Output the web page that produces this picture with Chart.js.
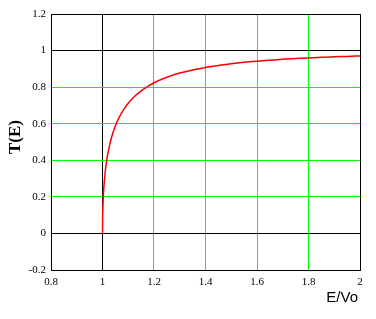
<!DOCTYPE html>
<html lang="en">
<head>
    <meta charset="UTF-8">
    <title>T(E) vs E/Vo</title>
    <script src="https://cdn.jsdelivr.net/npm/chart.js"></script>
    <style>
        body { margin: 0; background: #fff; }
        canvas { display: block; }
    </style>
</head>
<body>
    <canvas id="tChart" width="376" height="319"></canvas>
    <script>
        // values
        const energyRatio = [1.0, 1.0005, 1.001, 1.002, 1.003, 1.005, 1.007, 1.01, 1.015, 1.02, 1.03, 1.04, 1.05,
            1.06, 1.075, 1.08, 1.1, 1.125, 1.15, 1.175, 1.2, 1.25, 1.3, 1.35, 1.4, 1.45, 1.5, 1.55, 1.6,
            1.65, 1.7, 1.75, 1.8, 1.85, 1.9, 1.95, 2.0];
        const transmission = [0, 0.086, 0.119, 0.164, 0.197, 0.246, 0.284, 0.329, 0.387, 0.431, 0.498, 0.548, 0.588,
            0.621, 0.661, 0.673, 0.712, 0.75, 0.78, 0.803, 0.824, 0.854, 0.877, 0.894, 0.908, 0.919, 0.928, 0.936, 0.942,
            0.947, 0.952, 0.956, 0.96, 0.963, 0.966, 0.968, 0.971];

        const xTicks = [0.8, 1, 1.2, 1.4, 1.6, 1.8, 2];
        const yTicks = [-0.2, 0, 0.2, 0.4, 0.6, 0.8, 1, 1.2];
        const xBlack = [0.8, 1, 2];
        const yBlack = [-0.2, 0, 1, 1.2];

        const green = '#00ff00';
        const isIn = (list, v) => list.some(t => Math.abs(t - v) < 1e-6);
        const fmt = v => String(Math.round(v * 10) / 10);

        const tickFont = { family: '"Liberation Serif", "Times New Roman", serif', size: 11 };

        // axis titles
        const titles = {
            id: 'titles',
            afterDraw(chart) {
                const c = chart.ctx;
                c.save();
                c.fillStyle = '#000';
                c.font = '15px "Liberation Sans", Arial, sans-serif';
                c.textAlign = 'right';
                c.textBaseline = 'alphabetic';
                c.fillText('E/Vo', 358, 302);
                c.translate(16, 137);
                c.rotate(-Math.PI / 2);
                c.font = 'bold 17px "Liberation Serif", "Times New Roman", serif';
                c.textAlign = 'center';
                c.textBaseline = 'middle';
                c.fillText('T(E)', 0, 0);
                c.restore();
            }
        };

        new Chart(document.getElementById('tChart'), {
            type: 'scatter',
            data: {
                datasets: [{
                    data: energyRatio.map((e, i) => ({ x: e, y: transmission[i] })),
                    showLine: true,
                    borderColor: '#ff0000',
                    borderWidth: 1.5,
                    pointRadius: 0,
                    cubicInterpolationMode: 'monotone'
                }]
            },
            options: {
                responsive: false,
                animation: false,
                layout: { padding: { top: 14, right: 16, left: 0, bottom: 0 } },
                plugins: { legend: { display: false }, tooltip: { enabled: false } },
                scales: {
                    x: {
                        type: 'linear',
                        min: 0.8,
                        max: 2,
                        afterBuildTicks: s => { s.ticks = xTicks.map(v => ({ value: v })); },
                        afterFit: s => { s.height = 49; },
                        grid: {
                            drawTicks: false,
                            color: ctx => isIn(xBlack, ctx.tick.value) ? '#000' : green
                        },
                        border: { color: '#000' },
                        ticks: { color: '#000', font: tickFont, padding: 6, maxRotation: 0, callback: fmt }
                    },
                    y: {
                        min: -0.2,
                        max: 1.2,
                        afterBuildTicks: s => { s.ticks = yTicks.map(v => ({ value: v })); },
                        afterFit: s => { s.width = 51; },
                        grid: {
                            drawTicks: false,
                            color: ctx => isIn(yBlack, ctx.tick.value) ? '#000' : green
                        },
                        border: { color: '#000' },
                        ticks: { color: '#000', font: tickFont, padding: 5, callback: fmt }
                    }
                }
            },
            plugins: [titles]
        });
    </script>
</body>
</html>
